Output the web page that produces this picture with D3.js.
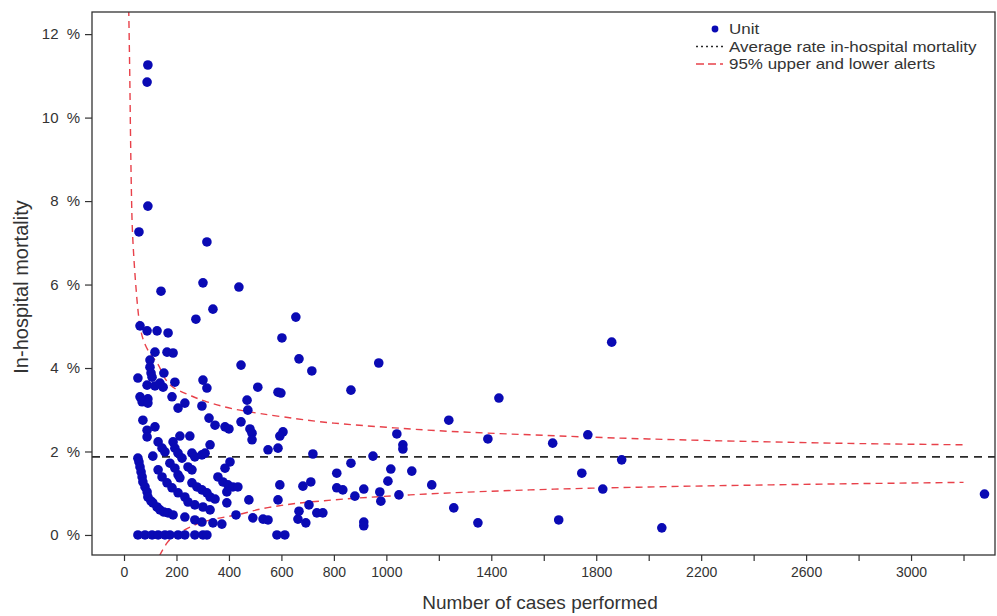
<!DOCTYPE html>
<html>
<head>
<meta charset="utf-8">
<script src="https://cdn.jsdelivr.net/npm/d3@7"></script>
<style>
  html, body { margin: 0; padding: 0; background: #fff; }
  svg text { font-family: "Liberation Sans", Arial, sans-serif; fill: #333; }
</style>
</head>
<body>
<svg id="chart" width="997" height="616"></svg>
<script>
// Cases performed and in-hospital mortality (%) for each unit
const unitCases = [
  91, 88, 91, 57, 316, 301, 438, 141, 339, 274, 655, 602, 667, 716, 971, 1859, 446,
  61, 88, 126, 168, 118, 164, 187, 99, 99, 103, 107, 152, 53, 88, 118, 137, 149, 194,
  183, 61, 91, 69, 91, 232, 206, 301, 316, 297, 510, 587, 469, 472, 72, 88, 118, 88,
  213, 251, 130, 145, 156, 187, 194, 206, 221, 259, 270, 297, 110, 130, 145, 164, 175,
  194, 206, 213, 244, 259, 53, 57, 61, 65, 69, 72, 80, 88, 91, 103, 110, 126, 137, 152,
  168, 187, 206, 232, 244, 270, 183, 259, 278, 297, 316, 232, 270, 297,
  53, 80, 107, 130, 156, 175, 206, 232, 270, 301, 316, 583, 613,
  324, 347, 385, 400, 446, 480, 488, 488, 606, 594, 328, 309, 549, 587, 404, 385, 358,
  377, 396, 415, 434, 594, 328, 347, 392, 392, 476, 587, 301, 328, 427, 491, 530, 549,
  663, 339, 373, 598, 865, 1429, 1238, 1040, 1387, 1063, 1063, 720, 949, 865, 1017, 1097,
  811, 1006, 712, 682, 1173, 811, 834, 914, 975, 880, 1048, 979, 705, 667, 735, 758, 1257,
  693, 914, 914, 1349, 1634, 1768, 1897, 1745, 1825, 1657, 2050, 3280
];
const unitMortality = [
  11.26, 10.85, 7.88, 7.26, 7.02, 6.04, 5.94, 5.84, 5.41, 5.17, 5.22, 4.72, 4.22, 3.93, 4.12, 4.62, 4.07,
  5.01, 4.89, 4.89, 4.84, 4.38, 4.38, 4.36, 4.19, 4.02, 3.88, 3.78, 3.88, 3.76, 3.59, 3.57, 3.64, 3.54, 3.66,
  3.31, 3.31, 3.26, 3.19, 3.16, 3.16, 3.04, 3.71, 3.52, 3.09, 3.54, 3.42, 3.23, 2.99, 2.75, 2.51, 2.59, 2.35,
  2.37, 2.37, 2.23, 2.08, 1.99, 2.23, 2.08, 1.96, 1.84, 1.96, 1.87, 1.92, 1.89, 1.56, 1.39, 1.25, 1.72,
  1.60, 1.44, 1.37, 1.63, 1.56, 1.84, 1.75, 1.63, 1.51, 1.39, 1.27, 1.15, 1.03, 0.91, 0.81, 0.77, 0.67, 0.60, 0.55,
  0.53, 0.48, 1.01, 0.91, 0.79, 0.72, 1.13, 1.25, 1.15, 1.08, 1.01, 0.43, 0.36, 0.31,
  0, 0, 0, 0, 0, 0, 0, 0, 0, 0, 0, 0, 0,
  2.80, 2.63, 2.59, 2.54, 2.71, 2.54, 2.44, 2.28, 2.47, 2.37, 2.16, 1.96, 2.04, 2.08, 1.75, 1.60, 1.39,
  1.27, 1.20, 1.15, 1.15, 1.20, 0.91, 0.86, 1.03, 0.77, 0.84, 0.84, 0.67, 0.60, 0.48, 0.41, 0.38, 0.36,
  0.38, 0.29, 0.26, 3.40, 3.47, 3.28, 2.75, 2.42, 2.30, 2.16, 2.06, 1.94, 1.89, 1.72, 1.58, 1.53,
  1.48, 1.29, 1.27, 1.17, 1.20, 1.13, 1.08, 1.10, 1.03, 0.93, 0.96, 0.81, 0.72, 0.57, 0.53, 0.53, 0.65,
  0.29, 0.31, 0.22, 0.29, 2.20, 2.40, 1.80, 1.48, 1.10, 0.36, 0.17, 0.98
];

// Overall average in-hospital mortality (%)
const averageRate = 1.87;

// 95% alert limits (%) against number of cases
const upperCases = [18, 22, 25, 28, 32, 38, 46, 53, 61, 75, 91, 126, 187, 250, 316, 442, 606, 800, 1000, 1250, 1547, 2000, 2461, 2800, 3200];
const upperLimit = [12.6, 11.0, 9.5, 8.3, 7.3, 6.6, 5.9, 5.4, 5.0, 4.65, 4.43, 4.12, 3.54, 3.35, 3.19, 2.99, 2.83, 2.68, 2.58, 2.48, 2.40, 2.30, 2.23, 2.19, 2.16];
const lowerCases = [135, 150, 164, 200, 240, 290, 350, 430, 520, 613, 800, 1090, 1547, 2000, 2461, 3200];
const lowerLimit = [-0.5, -0.33, -0.19, 0.0, 0.15, 0.29, 0.39, 0.48, 0.62, 0.72, 0.84, 0.96, 1.08, 1.15, 1.20, 1.26];

// Axis ticks
const xTicks = [0, 200, 400, 600, 800, 1000, 1200, 1400, 1600, 1800, 2000, 2200, 2400, 2600, 2800, 3000, 3200];
const xTickLabels = [0, 200, 400, 600, 800, 1000, 1400, 1800, 2200, 2600, 3000];
const yTicks = [0, 2, 4, 6, 8, 10, 12];

const legendLabels = ["Unit", "Average rate in-hospital mortality", "95% upper and lower alerts"];

const svg = d3.select("#chart");
const frame = { left: 92, right: 995, top: 12, bottom: 555 };

const x = d3.scaleLinear().domain([-122, 3320]).range([frame.left, frame.right]);
const y = d3.scaleLinear().domain([-0.48, 12.53]).range([frame.bottom, frame.top]);

// clip region for the plot area
svg.append("defs").append("clipPath").attr("id", "plot-clip")
  .append("rect")
  .attr("x", frame.left).attr("y", frame.top)
  .attr("width", frame.right - frame.left).attr("height", frame.bottom - frame.top);

const plot = svg.append("g").attr("clip-path", "url(#plot-clip)");

// average line
plot.append("line")
  .attr("x1", frame.left).attr("x2", frame.right)
  .attr("y1", y(averageRate)).attr("y2", y(averageRate))
  .attr("stroke", "#2a2a2a").attr("stroke-width", 1.6)
  .attr("stroke-dasharray", "8,6");

// alert limits
const upperPts = upperCases.map((c, i) => [c, upperLimit[i]]);
const lowerPts = lowerCases.map((c, i) => [c, lowerLimit[i]]);

plot.append("path")
  .attr("d", d3.line().x(d => x(d[0])).y(d => y(d[1])).curve(d3.curveMonotoneY)(upperPts))
  .attr("fill", "none").attr("stroke", "#e8414a").attr("stroke-width", 1.4)
  .attr("stroke-dasharray", "7,5");

plot.append("path")
  .attr("d", d3.line().x(d => x(d[0])).y(d => y(d[1])).curve(d3.curveMonotoneX)(lowerPts))
  .attr("fill", "none").attr("stroke", "#e8414a").attr("stroke-width", 1.4)
  .attr("stroke-dasharray", "7,5");

// units
plot.append("g").selectAll("circle")
  .data(unitCases.map((c, i) => [c, unitMortality[i]]))
  .join("circle")
  .attr("cx", d => x(d[0]))
  .attr("cy", d => y(d[1]))
  .attr("r", 4.8)
  .attr("fill", "#0a0ab4");

// frame
svg.append("rect")
  .attr("x", frame.left).attr("y", frame.top)
  .attr("width", frame.right - frame.left).attr("height", frame.bottom - frame.top)
  .attr("fill", "none").attr("stroke", "#333").attr("stroke-width", 1.3);

// x axis
const xAxis = d3.axisBottom(x)
  .tickValues(xTicks)
  .tickSize(6)
  .tickPadding(6)
  .tickFormat(d => xTickLabels.includes(d) ? String(d) : "");
const gx = svg.append("g").attr("transform", `translate(0,${frame.bottom})`).call(xAxis);
gx.select(".domain").remove();
gx.selectAll(".tick line").attr("stroke", "#333").attr("stroke-width", 1.2);
gx.selectAll(".tick text").attr("font-size", 14).attr("fill", "#3a3a3a");

// y axis
const yAxis = d3.axisLeft(y)
  .tickValues(yTicks)
  .tickSize(7)
  .tickPadding(5)
  .tickFormat(d => d + " %");
const gy = svg.append("g").attr("transform", `translate(${frame.left},0)`).call(yAxis);
gy.select(".domain").remove();
gy.selectAll(".tick line").attr("stroke", "#333").attr("stroke-width", 1.2);
gy.selectAll(".tick text").attr("font-size", 15).attr("word-spacing", "4px").attr("fill", "#3a3a3a");

// axis titles
svg.append("text")
  .attr("x", 540).attr("y", 609)
  .attr("text-anchor", "middle").attr("font-size", 19)
  .text("Number of cases performed");

svg.append("text")
  .attr("transform", `translate(28,287) rotate(-90)`)
  .attr("text-anchor", "middle").attr("font-size", 20)
  .text("In-hospital mortality");

// legend (text slightly widened)
const legend = svg.append("g").attr("transform", "translate(696,29)");
const rowGap = 17.5;
legend.append("circle").attr("cx", 19).attr("cy", 0).attr("r", 3.4).attr("fill", "#0a0ab4");
legend.append("line").attr("x1", 0).attr("x2", 27).attr("y1", rowGap).attr("y2", rowGap)
  .attr("stroke", "#2a2a2a").attr("stroke-width", 1.4).attr("stroke-dasharray", "2,3");
legend.append("line").attr("x1", 0).attr("x2", 27).attr("y1", 2 * rowGap).attr("y2", 2 * rowGap)
  .attr("stroke", "#e8414a").attr("stroke-width", 1.4).attr("stroke-dasharray", "8,4");
legend.selectAll("text.lab")
  .data(legendLabels)
  .join("text")
  .attr("class", "lab")
  .attr("transform", (d, i) => `translate(33,${i * rowGap}) scale(1.17,1)`)
  .attr("dy", "0.35em")
  .attr("font-size", 14.5)
  .text(d => d);
</script>
</body>
</html>
